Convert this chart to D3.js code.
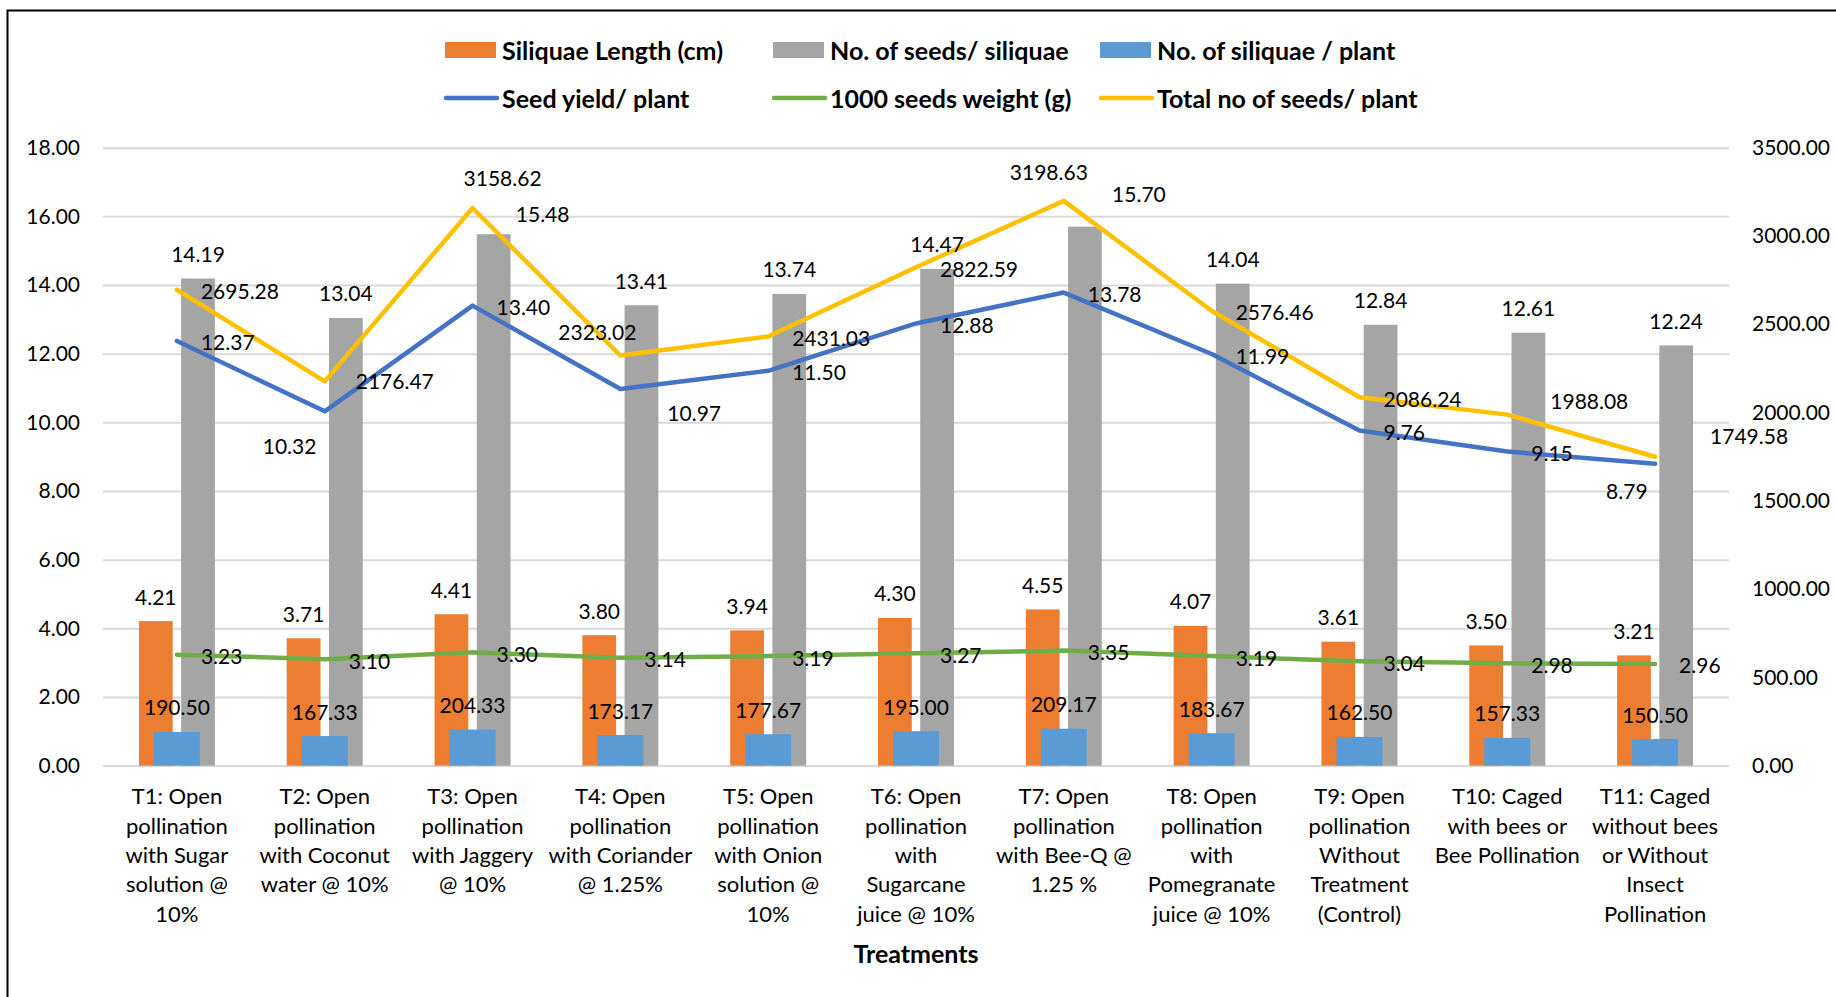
<!DOCTYPE html>
<html>
<head>
<meta charset="utf-8">
<script src="https://cdn.jsdelivr.net/npm/d3@7"></script>
<style>
  html, body { margin: 0; padding: 0; background: #fff; }
  svg { display: block; }
  text { font-family: Lato, "Open Sans", sans-serif; fill: #000; }
</style>
</head>
<body>
<svg id="chart" width="1836" height="997"></svg>
<script>
// ---------------- data ----------------
const categories = [
  "T1: Open\npollination\nwith Sugar\nsolution @\n10%",
  "T2: Open\npollination\nwith Coconut\nwater @ 10%",
  "T3: Open\npollination\nwith Jaggery\n@ 10%",
  "T4: Open\npollination\nwith Coriander\n@ 1.25%",
  "T5: Open\npollination\nwith Onion\nsolution @\n10%",
  "T6: Open\npollination\nwith\nSugarcane\njuice @ 10%",
  "T7: Open\npollination\nwith Bee-Q @\n1.25 %",
  "T8: Open\npollination\nwith\nPomegranate\njuice @ 10%",
  "T9: Open\npollination\nWithout\nTreatment\n(Control)",
  "T10: Caged\nwith bees or\nBee Pollination",
  "T11: Caged\nwithout bees\nor Without\nInsect\nPollination"
];
const siliquaeLength   = [4.21, 3.71, 4.41, 3.80, 3.94, 4.30, 4.55, 4.07, 3.61, 3.50, 3.21];
const seedsPerSiliquae = [14.19, 13.04, 15.48, 13.41, 13.74, 14.47, 15.70, 14.04, 12.84, 12.61, 12.24];
const siliquaePerPlant = [190.50, 167.33, 204.33, 173.17, 177.67, 195.00, 209.17, 183.67, 162.50, 157.33, 150.50];
const seedYield        = [12.37, 10.32, 13.40, 10.97, 11.50, 12.88, 13.78, 11.99, 9.76, 9.15, 8.79];
const seedWeight       = [3.23, 3.10, 3.30, 3.14, 3.19, 3.27, 3.35, 3.19, 3.04, 2.98, 2.96];
const totalSeeds       = [2695.28, 2176.47, 3158.62, 2323.02, 2431.03, 2822.59, 3198.63, 2576.46, 2086.24, 1988.08, 1749.58];
const leftTicks  = [0, 2, 4, 6, 8, 10, 12, 14, 16, 18];
const rightTicks = [0, 500, 1000, 1500, 2000, 2500, 3000, 3500];
const seriesNames = ["Siliquae Length (cm)", "No. of seeds/ siliquae", "No. of siliquae / plant",
                     "Seed yield/ plant", "1000 seeds weight (g)", "Total no of seeds/ plant"];
const xTitle = "Treatments";

// ---------------- layout / style ----------------
const W = 1836, H = 997;
const plot = { left: 103, right: 1729, top: 147.7, bottom: 765.6 };
const colors = { len: "#ED7D31", seeds: "#A5A5A5", silPlant: "#5B9BD5",
                 yield: "#4472C4", weight: "#70AD47", total: "#FFC000" };
// manual label nudges (px) relative to default label positions
const nudgeYield = { 1: [-86, 33], 3: [23, 22], 10: [-73, 26] };
const nudgeTotal = { 1: [7, -2], 2: [-33, -31], 3: [-86, -24.5], 6: [-78, -30], 9: [19, -15], 10: [31, -22.6], 11: [8, -9] };
const nudgeSeeds = { 2: [49, 4], 6: [54, -8] };

const fmt = d3.format(".2f");
const svg = d3.select("#chart");

// frame
svg.append("rect").attr("x", 7.5).attr("y", 10.5).attr("width", 1900).attr("height", 1100)
  .attr("fill", "none").attr("stroke", "#000").attr("stroke-width", 2);

const idx = d3.range(categories.length);
const x = d3.scaleBand().domain(idx).range([plot.left, plot.right]).padding(0);
const bw = x.bandwidth();
const pair = d3.scaleBand().domain(["len", "seeds"]).range([-bw * 0.257, bw * 0.257]).paddingInner(0.2);
const blueW = bw * 0.311;
const yL = d3.scaleLinear().domain([0, 18]).range([plot.bottom, plot.top]);
const yR = d3.scaleLinear().domain([0, 3500]).range([plot.bottom, plot.top]);
const cx = i => x(i) + bw / 2;

// gridlines + left axis
const gL = svg.append("g").attr("transform", `translate(${plot.left},0)`)
  .call(d3.axisLeft(yL).tickValues(leftTicks).tickFormat(fmt)
        .tickSizeInner(-(plot.right - plot.left)).tickSizeOuter(0).tickPadding(23));
gL.select(".domain").remove();
gL.selectAll(".tick line").attr("stroke", "#D9D9D9").attr("stroke-width", 2);
gL.selectAll(".tick text").attr("font-size", 21).attr("font-family", "Lato").attr("fill", "#000");

const gR = svg.append("g").attr("transform", `translate(${plot.right},0)`)
  .call(d3.axisRight(yR).tickValues(rightTicks).tickFormat(fmt).tickSize(0).tickPadding(23));
gR.select(".domain").remove();
gR.selectAll(".tick text").attr("font-size", 21).attr("font-family", "Lato").attr("fill", "#000");

// bottom axis (category labels)
const gB = svg.append("g").attr("transform", `translate(0,${plot.bottom})`)
  .call(d3.axisBottom(x).tickSize(0).tickFormat(""));
gB.select(".domain").remove();
gB.selectAll(".tick").each(function(d) {
  const lines = categories[d].split("\n");
  const t = d3.select(this).append("text")
    .attr("text-anchor", "middle").attr("font-size", 22).attr("font-family", "Lato").attr("fill", "#000");
  lines.forEach((ln, k) => {
    t.append("tspan").attr("x", 0).attr("y", 30.4 + k * 29.3).attr("dominant-baseline", "central").text(ln);
  });
});

// x title
svg.append("text").attr("x", (plot.left + plot.right) / 2).attr("y", 953)
  .attr("text-anchor", "middle").attr("dominant-baseline", "central")
  .attr("font-size", 25).attr("font-weight", "bold").text(xTitle);

// bars
const bars = svg.append("g");
bars.selectAll(".len").data(siliquaeLength).join("rect")
  .attr("x", (d, i) => cx(i) + pair("len")).attr("width", pair.bandwidth())
  .attr("y", d => yL(d)).attr("height", d => yL(0) - yL(d)).attr("fill", colors.len);
bars.selectAll(".seeds").data(seedsPerSiliquae).join("rect")
  .attr("x", (d, i) => cx(i) + pair("seeds")).attr("width", pair.bandwidth())
  .attr("y", d => yL(d)).attr("height", d => yL(0) - yL(d)).attr("fill", colors.seeds);
const bars2 = svg.append("g");
bars2.selectAll("rect").data(siliquaePerPlant).join("rect")
  .attr("x", (d, i) => cx(i) - blueW / 2).attr("width", blueW)
  .attr("y", d => yR(d)).attr("height", d => yR(0) - yR(d)).attr("fill", colors.silPlant);

// lines
function drawLine(data, scale, color) {
  svg.append("path").datum(data)
    .attr("fill", "none").attr("stroke", color).attr("stroke-width", 4.5)
    .attr("stroke-linejoin", "round").attr("stroke-linecap", "round")
    .attr("d", d3.line().x((d, i) => cx(i)).y(d => scale(d)));
}
drawLine(seedYield, yL, colors.yield);
drawLine(seedWeight, yL, colors.weight);
drawLine(totalSeeds, yR, colors.total);

// data labels
const labels = svg.append("g").attr("font-size", 21).attr("font-family", "Lato");
function barLabels(data, scale, offsetFn, nudge) {
  labels.append("g").selectAll("text").data(data).join("text")
    .attr("text-anchor", "middle").attr("dominant-baseline", "central")
    .attr("x", (d, i) => cx(i) + offsetFn() + ((nudge && nudge[i]) ? nudge[i][0] : 0))
    .attr("y", (d, i) => scale(d) - 25 + ((nudge && nudge[i]) ? nudge[i][1] : 0))
    .text(d => fmt(d));
}
barLabels(siliquaeLength, yL, () => pair("len") + pair.bandwidth() / 2, null);
barLabels(seedsPerSiliquae, yL, () => pair("seeds") + pair.bandwidth() / 2, nudgeSeeds);
barLabels(siliquaePerPlant, yR, () => 0, null);

function lineLabels(data, scale, nudge) {
  labels.append("g").selectAll("text").data(data).join("text")
    .attr("text-anchor", "start").attr("dominant-baseline", "central")
    .attr("x", (d, i) => cx(i) + 24 + ((nudge && nudge[i]) ? nudge[i][0] : 0))
    .attr("y", (d, i) => scale(d) + 1 + ((nudge && nudge[i]) ? nudge[i][1] : 0))
    .text(d => fmt(d));
}
lineLabels(seedYield, yL, nudgeYield);
lineLabels(seedWeight, yL, null);
lineLabels(totalSeeds, yR, nudgeTotal);

// legend
const legendItems = [
  { name: seriesNames[0], type: "rect", color: colors.len,      x: 445,  y: 50 },
  { name: seriesNames[1], type: "rect", color: colors.seeds,    x: 773,  y: 50 },
  { name: seriesNames[2], type: "rect", color: colors.silPlant, x: 1100, y: 50 },
  { name: seriesNames[3], type: "line", color: colors.yield,    x: 445,  y: 98 },
  { name: seriesNames[4], type: "line", color: colors.weight,   x: 773,  y: 98 },
  { name: seriesNames[5], type: "line", color: colors.total,    x: 1100, y: 98 }
];
const lg = svg.append("g").selectAll("g").data(legendItems).join("g")
  .attr("transform", d => `translate(${d.x},${d.y})`);
lg.filter(d => d.type === "rect").append("rect")
  .attr("x", 0).attr("y", -8).attr("width", 51).attr("height", 16).attr("fill", d => d.color);
lg.filter(d => d.type === "line").append("line")
  .attr("x1", 1).attr("x2", 52).attr("y1", 0).attr("y2", 0)
  .attr("stroke", d => d.color).attr("stroke-width", 4.5).attr("stroke-linecap", "round");
lg.append("text").attr("x", 57).attr("y", 0).attr("dominant-baseline", "central")
  .attr("font-size", 25).attr("font-weight", "bold").text(d => d.name);
</script>
</body>
</html>
